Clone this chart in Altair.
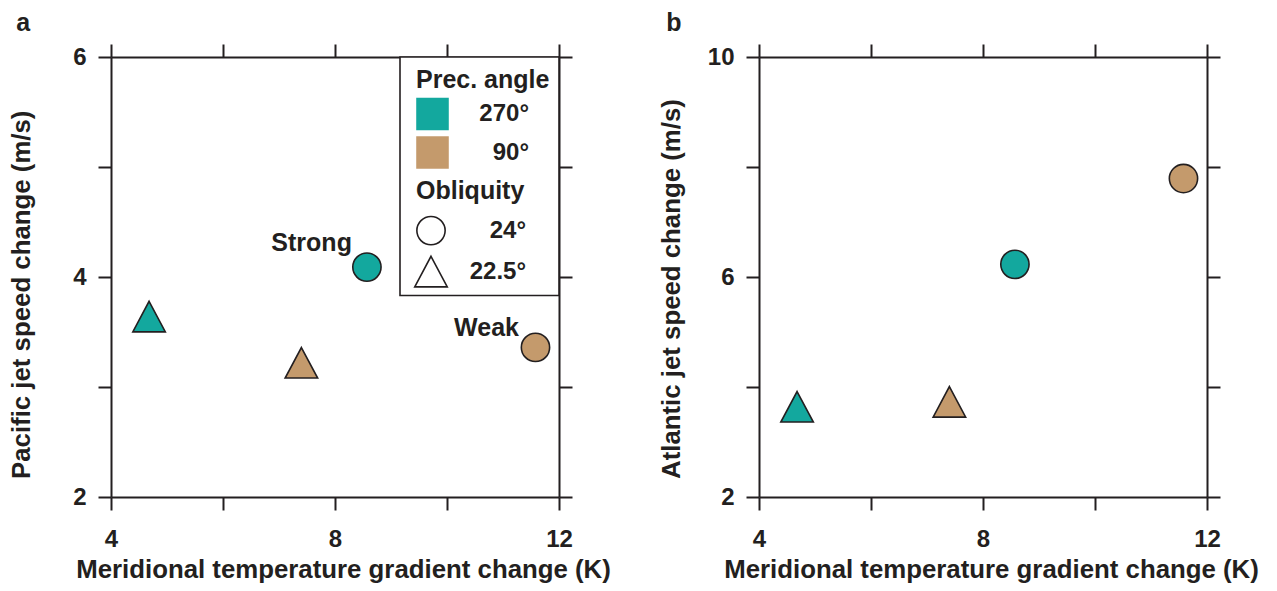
import altair as alt
import pandas as pd

# ---------------- data ----------------
prec_angle = ["270°", "90°", "270°", "90°"]
obliquity = ["22.5°", "22.5°", "24°", "24°"]
temp_gradient = [4.68, 7.40, 8.57, 11.58]
pacific_jet = [3.64, 3.22, 4.09, 3.36]
atlantic_jet = [3.64, 3.73, 6.23, 7.79]

annot_labels = ["Strong", "Weak"]
annot_x = [8.57, 11.58]
annot_y = [4.09, 3.36]

prec_domain = ["270°", "90°"]
obliq_domain = ["24°", "22.5°"]

x_ticks = [4, 6, 8, 10, 12]
pac_ticks = [2, 3, 4, 5, 6]
atl_ticks = [2, 4, 6, 8, 10]

# ---------------- style ----------------
INK = "#231f20"
TEAL = "#13a89e"
BROWN = "#c49a6c"
FONT = "Liberation Sans"
TRI = "M0,-1.08L1.15,1.08L-1.15,1.08Z"
W, H = 448, 440

df = pd.DataFrame({"prec": prec_angle, "obl": obliquity, "grad": temp_gradient,
                   "pac": pacific_jet, "atl": atlantic_jet})
ann = pd.DataFrame({"label": annot_labels, "x": annot_x, "y": annot_y})

xscale = alt.Scale(domain=[4, 12], nice=False, zero=False)
XTITLE = "Meridional temperature gradient change (K)"


def make_panel(field, ydom, yticks, yexpr, ytitle, ypad, letter, with_legend):
    yscale = alt.Scale(domain=ydom, nice=False, zero=False)
    if with_legend:
        color_leg = alt.Legend(title="Prec. angle", orient="none", legendX=305, legendY=10.5,
                               symbolType="square", symbolSize=1060, symbolStrokeWidth=0,
                               symbolOpacity=1, labelAlign="right", labelOffset=80,
                               titlePadding=5, rowPadding=5.5, padding=0,
                               labelFont=FONT, labelFontSize=24, labelFontWeight="bold",
                               labelColor=INK, titleFont=FONT, titleFontSize=25,
                               titleFontWeight="bold", titleColor=INK)
        shape_leg = alt.Legend(title="Obliquity", orient="none", legendX=305, legendY=121.6,
                               symbolSize=800, symbolFillColor="white", symbolStrokeColor=INK,
                               symbolStrokeWidth=1.6, symbolOpacity=1, labelAlign="right",
                               labelOffset=80, titlePadding=12, rowPadding=4, padding=0,
                               labelFont=FONT, labelFontSize=24, labelFontWeight="bold",
                               labelColor=INK, titleFont=FONT, titleFontSize=25,
                               titleFontWeight="bold", titleColor=INK)
    else:
        color_leg = None
        shape_leg = None

    pts = alt.Chart(df).mark_point(filled=True, opacity=1, size=800).encode(
        x=alt.X("grad:Q", scale=xscale,
                axis=alt.Axis(orient="bottom", values=x_ticks, labelFlush=False,
                              labelExpr="datum.value % 4 == 0 ? datum.label : ''",
                              title=XTITLE, titleX=W / 2 + 8)),
        y=alt.Y(f"{field}:Q", scale=yscale,
                axis=alt.Axis(orient="left", values=yticks, labelExpr=yexpr, title=ytitle,
                              titlePadding=ypad, titleY=421.5, titleAlign="left",
                              titleAngle=270)),
        color=alt.Color("prec:N", scale=alt.Scale(domain=prec_domain, range=[TEAL, BROWN]),
                        legend=color_leg),
        shape=alt.Shape("obl:N", scale=alt.Scale(domain=obliq_domain, range=["circle", TRI]),
                        legend=shape_leg),
        stroke=alt.value(INK),
        strokeWidth=alt.value(1.6),
    )
    frame = alt.Chart(df).mark_point(opacity=0).encode(
        x=alt.X("grad:Q", scale=xscale,
                axis=alt.Axis(orient="top", values=x_ticks, labels=False, title=None)),
        y=alt.Y(f"{field}:Q", scale=yscale,
                axis=alt.Axis(orient="right", values=yticks, labels=False, title=None)),
    )
    layers = [frame, pts]
    if with_legend:
        box = alt.Chart(pd.DataFrame({"k": [0]})).mark_rect(
            fill="white", stroke=INK, strokeWidth=1.6
        ).encode(x=alt.value(289), x2=alt.value(448), y=alt.value(0), y2=alt.value(238.5))
        layers.insert(0, box)
        txt = dict(align="right", baseline="middle", font=FONT, fontSize=25,
                   fontWeight="bold", color=INK)
        for lab, dx, dy in [("Strong", -15, -24), ("Weak", -16.5, -19.7)]:
            t = alt.Chart(ann).transform_filter(f"datum.label == '{lab}'").mark_text(
                dx=dx, dy=dy, **txt
            ).encode(
                x=alt.X("x:Q", scale=xscale, axis=None),
                y=alt.Y("y:Q", scale=yscale, axis=None),
                text="label:N",
            )
            layers.append(t)
    return alt.layer(*layers).resolve_axis(x="independent", y="independent").properties(
        width=W, height=H,
        title=alt.Title(letter, anchor="start", frame="bounds", font=FONT, fontSize=25,
                        fontWeight="bold", color=INK, offset=7.5, dx=8),
    )


panel_a = make_panel("pac", [2, 6], pac_ticks, "datum.value % 2 == 0 ? datum.label : ''",
                     "Pacific jet speed change (m/s)", 38.5, "a", True)
panel_b = make_panel("atl", [2, 10], atl_ticks, "(datum.value - 2) % 4 == 0 ? datum.label : ''",
                     "Atlantic jet speed change (m/s)", 23, "b", False)

chart = alt.hconcat(panel_a, panel_b, spacing=47).resolve_scale(
    color="independent", shape="independent"
).properties(
    padding={"left": 0, "top": 2, "right": 5, "bottom": 5}
).configure_axis(
    domainColor=INK, domainWidth=2, tickColor=INK, tickWidth=2, tickSize=13, grid=False,
    labelFont=FONT, labelFontSize=24, labelFontWeight="bold", labelColor=INK,
    labelPadding=12, titleFont=FONT, titleFontSize=25.8, titleFontWeight="bold",
    titleColor=INK,
).configure_axisX(labelPadding=17, titlePadding=6).configure_view(strokeWidth=0)

chart.save("out.html", embed_options={"renderer": "svg", "actions": False})
